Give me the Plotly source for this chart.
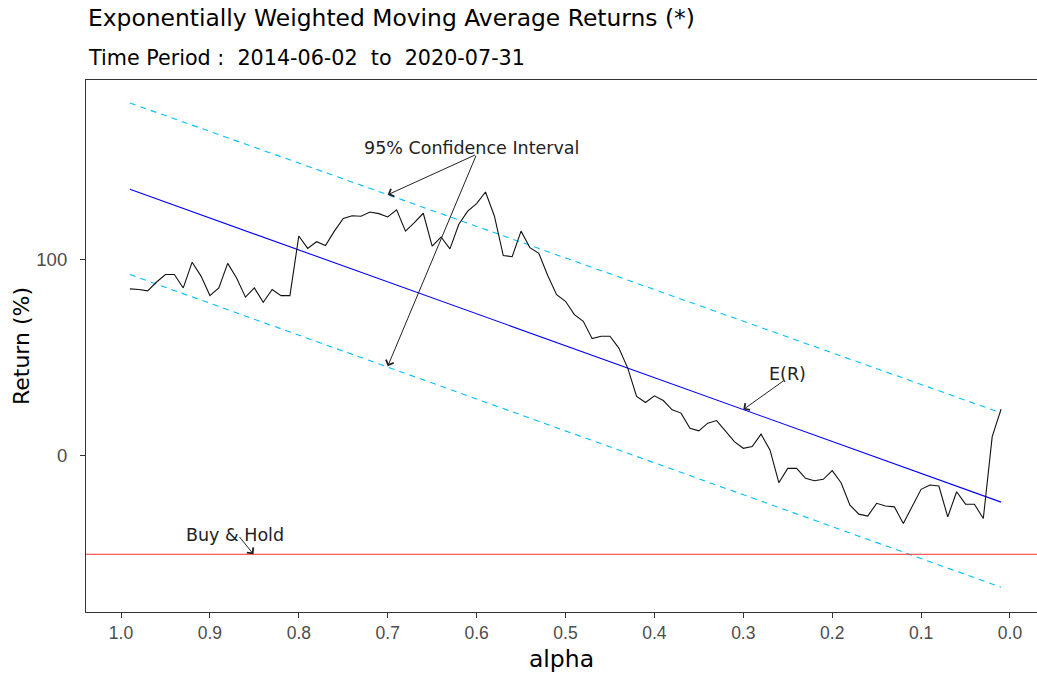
import plotly.graph_objects as go

alpha = [round(0.99 - 0.01 * i, 2) for i in range(99)]
ewma_returns = [
    85.0, 84.7, 84.0, 88.5, 92.3, 92.3, 85.5, 98.6, 91.5, 81.6,
    85.5, 98.0, 90.6, 80.8, 85.5, 78.2, 84.7, 81.6, 81.6, 111.9,
    105.6, 109.0, 107.1, 114.4, 120.9, 122.2, 122.0, 124.1, 123.3, 121.6,
    125.2, 114.4, 118.7, 123.5, 106.8, 111.4, 105.4, 117.9, 124.6, 128.4,
    134.3, 122.1, 102.0, 101.4, 114.4, 106.0, 103.1, 91.8, 82.1, 78.7,
    71.9, 68.5, 59.7, 60.9, 60.9, 54.9, 44.7, 30.3, 27.2, 30.6,
    28.2, 23.5, 21.8, 14.1, 12.8, 16.7, 18.0, 12.4, 7.3, 3.9,
    4.8, 11.1, 3.1, -13.6, -6.3, -6.3, -11.4, -12.6, -11.9, -7.5,
    -13.6, -25.0, -29.6, -30.6, -24.1, -25.5, -25.9, -34.4, -25.9, -17.0,
    -14.8, -15.3, -31.0, -18.2, -24.5, -24.6, -31.8, 9.8, 23.8,
]
fit_alpha = [0.99, 0.01]
expected_return = [135.7, -23.5]
ci_upper = [179.6, 21.9]
ci_lower = [92.3, -66.8]
buy_hold_return = -50.0
x_range = [1.0394, -0.0304]
y_range = [-79.4, 191.3]
x_ticks = [1.0, 0.9, 0.8, 0.7, 0.6, 0.5, 0.4, 0.3, 0.2, 0.1, 0.0]
x_ticklabels = ["1.0", "0.9", "0.8", "0.7", "0.6", "0.5", "0.4", "0.3", "0.2", "0.1", "0.0"]
y_ticks = [0, 100]

FONT = "Liberation Sans, Arial, sans-serif"
WIDE = "DejaVu Sans, sans-serif"

fig = go.Figure()
fig.add_trace(go.Scatter(x=fit_alpha, y=ci_upper, mode="lines",
                         line=dict(color="#00BFFF", width=1.1, dash="6px,5px"), showlegend=False))
fig.add_trace(go.Scatter(x=fit_alpha, y=ci_lower, mode="lines",
                         line=dict(color="#00BFFF", width=1.1, dash="6px,5px"), showlegend=False))
fig.add_trace(go.Scatter(x=fit_alpha, y=expected_return, mode="lines",
                         line=dict(color="#0000FF", width=1.1), showlegend=False))
fig.add_trace(go.Scatter(x=x_range, y=[buy_hold_return, buy_hold_return], mode="lines",
                         line=dict(color="#FF3030", width=1.1), showlegend=False))
fig.add_trace(go.Scatter(x=alpha, y=ewma_returns, mode="lines",
                         line=dict(color="#111111", width=1.1), showlegend=False))

ann_font = dict(family=WIDE, size=17.5, color="#222222")
arrow_kw = dict(showarrow=True, arrowhead=4, arrowsize=1.6, arrowwidth=1,
                arrowcolor="#222222", axref="x", ayref="y", xref="x", yref="y", standoff=0)

fig.add_annotation(x=0.606, y=156.5, text="95% Confidence Interval", showarrow=False,
                   font=ann_font, xref="x", yref="y")
fig.add_annotation(x=0.7, y=132.9, ax=0.6, ay=153.5, text="", **arrow_kw)
fig.add_annotation(x=0.7, y=45.6, ax=0.6, ay=153.5, text="", **arrow_kw)
fig.add_annotation(x=0.25, y=41.5, text="E(R)", showarrow=False, font=ann_font, xref="x", yref="y")
fig.add_annotation(x=0.30, y=23.6, ax=0.253, ay=38.8, text="", **arrow_kw)
fig.add_annotation(x=0.872, y=-40.3, text="Buy & Hold", showarrow=False, font=ann_font, xref="x", yref="y")
fig.add_annotation(x=0.851, y=-50.0, ax=0.868, ay=-40.5, text="", **arrow_kw)

fig.add_annotation(text="Exponentially Weighted Moving Average Returns (*)", xref="paper", yref="paper",
                   x=0.0, y=1.0, xanchor="left", yanchor="middle", yshift=62, showarrow=False,
                   font=dict(family=WIDE, size=23.4, color="#000000"))
fig.add_annotation(text="Time Period :  2014-06-02  to  2020-07-31", xref="paper", yref="paper",
                   x=0.0, y=1.0, xanchor="left", yanchor="middle", yshift=22, showarrow=False,
                   font=dict(family=WIDE, size=20.7, color="#000000"))

fig.update_layout(
    width=1037, height=673,
    margin=dict(l=86, r=0, t=80, b=61),
    paper_bgcolor="white", plot_bgcolor="white",
    font=dict(family=FONT),
    xaxis=dict(range=x_range, tickvals=x_ticks, ticktext=x_ticklabels,
               showgrid=False, zeroline=False, showline=True, linecolor="#333333", linewidth=1.2,
               mirror=True, ticks="outside", ticklen=5, tickcolor="#333333",
               tickfont=dict(family=FONT, size=17.5, color="#4D4D4D"),
               title=dict(text="alpha", font=dict(family=WIDE, size=23.5, color="#000000"), standoff=9)),
    yaxis=dict(range=y_range, tickvals=y_ticks,
               showgrid=False, zeroline=False, showline=True, linecolor="#333333", linewidth=1.2,
               ticks="outside", ticklen=5, tickcolor="#333333", ticklabelstandoff=9,
               tickfont=dict(family=FONT, size=18.5, color="#4D4D4D"),
               title=dict(text="Return (%)", font=dict(family=WIDE, size=22, color="#000000"), standoff=0)),
)

fig.write_html("out.html", config={"displayModeBar": False},
               post_script="document.body.style.margin='0px';")
